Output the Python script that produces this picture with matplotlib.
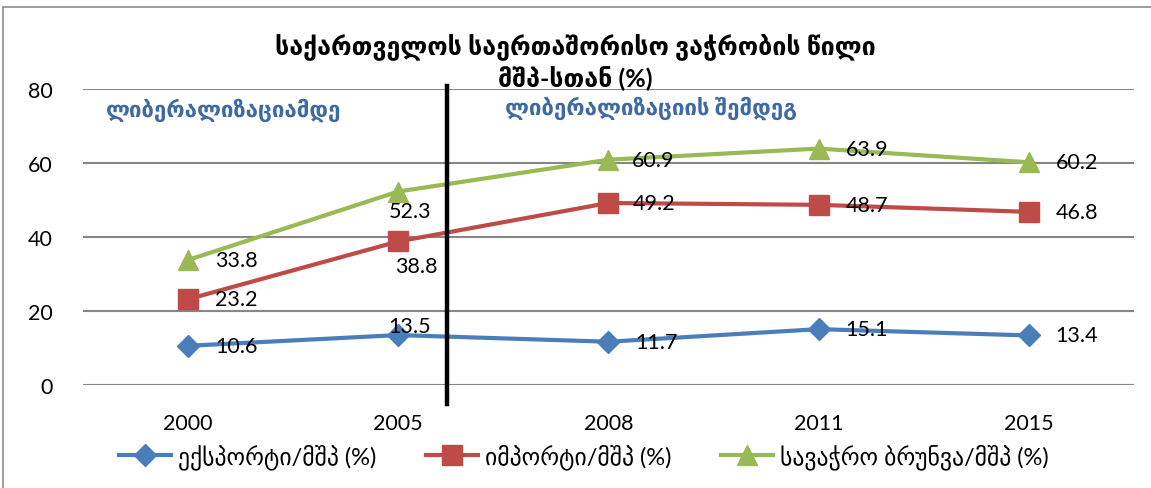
import numpy as np
import matplotlib.pyplot as plt
from matplotlib.patches import Rectangle

plt.rcParams['font.family'] = ['Lato', 'DejaVu Sans']

years = ['2000', '2005', '2008', '2011', '2015']
export_gdp = [10.6, 13.5, 11.7, 15.1, 13.4]
import_gdp = [23.2, 38.8, 49.2, 48.7, 46.8]
trade_gdp = [33.8, 52.3, 60.9, 63.9, 60.2]

series_names = ['ექსპორტი/მშპ (%)', 'იმპორტი/მშპ (%)', 'სავაჭრო ბრუნვა/მშპ (%)']
title = 'საქართველოს საერთაშორისო ვაჭრობის წილი\nმშპ-სთან (%)'
before_txt = 'ლიბერალიზაციამდე'
after_txt = 'ლიბერალიზაციის შემდეგ'

colors = ['#4A7EBB', '#BE4B48', '#98B954']
markers = ['D', 's', '^']
msizes = [11, 14, 14]

fig = plt.figure(figsize=(11.51, 4.89), dpi=100)
ax = fig.add_axes([0.0721, 0.2106, 0.9129, 0.6053])

x = np.arange(len(years))
all_series = [export_gdp, import_gdp, trade_gdp]
for vals, c, m, ms, name in zip(all_series, colors, markers, msizes, series_names):
    ax.plot(x, vals, color=c, lw=3, marker=m, markersize=ms, label=name, zorder=3)

# data label offsets in pixels (dx, dy, ha)
offsets = [
    [(27, 0, 'left'), (11, 9, 'center'), (27, 0, 'left'), (27, 0, 'left'), (27, 0, 'left')],
    [(27, 0, 'left'), (-3, -25, 'left'), (24, 0, 'left'), (27, 0, 'left'), (27, 0, 'left')],
    [(27, 0, 'left'), (12, -19, 'center'), (24, 0, 'left'), (27, 0, 'left'), (27, 0, 'left')],
]
for vals, offs in zip(all_series, offsets):
    for xi, v, (dx, dy, ha) in zip(x, vals, offs):
        ax.annotate(f'{v:.1f}', (xi, v), xytext=(dx, dy), textcoords='offset pixels',
                    ha=ha, va='center', fontsize=15.5, color='black', zorder=4)

ax.set_xlim(-0.5, len(years) - 0.5)
ax.set_ylim(0, 80)
ax.set_yticks([0, 20, 40, 60, 80])
ax.set_xticks(x)
ax.set_xticklabels(years)
ax.tick_params(axis='both', length=0, labelsize=15.5)
ax.tick_params(axis='y', pad=22)
ax.tick_params(axis='x', pad=20)
ax.grid(axis='y', color='#868686', lw=1.5)
ax.set_axisbelow(True)
for s in ax.spines.values():
    s.set_visible(False)

# liberalization divider
ax.axvline(1.232, ymin=-0.064, ymax=1.01, color='black', lw=3.2, clip_on=False, zorder=5)

ax.text(0.022, 0.93, before_txt, transform=ax.transAxes, fontsize=16, fontweight='bold',
        color='#3D6AA2', va='center', ha='left')
ax.text(0.402, 0.94, after_txt, transform=ax.transAxes, fontsize=16, fontweight='bold',
        color='#3D6AA2', va='center', ha='left')

fig.text(0.5, 0.873, title, ha='center', va='center', fontsize=18, fontweight='bold',
         linespacing=1.3)

fig.legend(loc='center', bbox_to_anchor=(0.507, 0.065), ncol=3, frameon=False,
           fontsize=17, handlelength=2.2, handletextpad=0.3, columnspacing=2.1)

fig.patches.append(Rectangle((0.003, -0.1), 1.2, 1.084, transform=fig.transFigure,
                             fill=False, edgecolor='#8C8C8C', lw=1.2))

fig.savefig('out.png', dpi=100)
